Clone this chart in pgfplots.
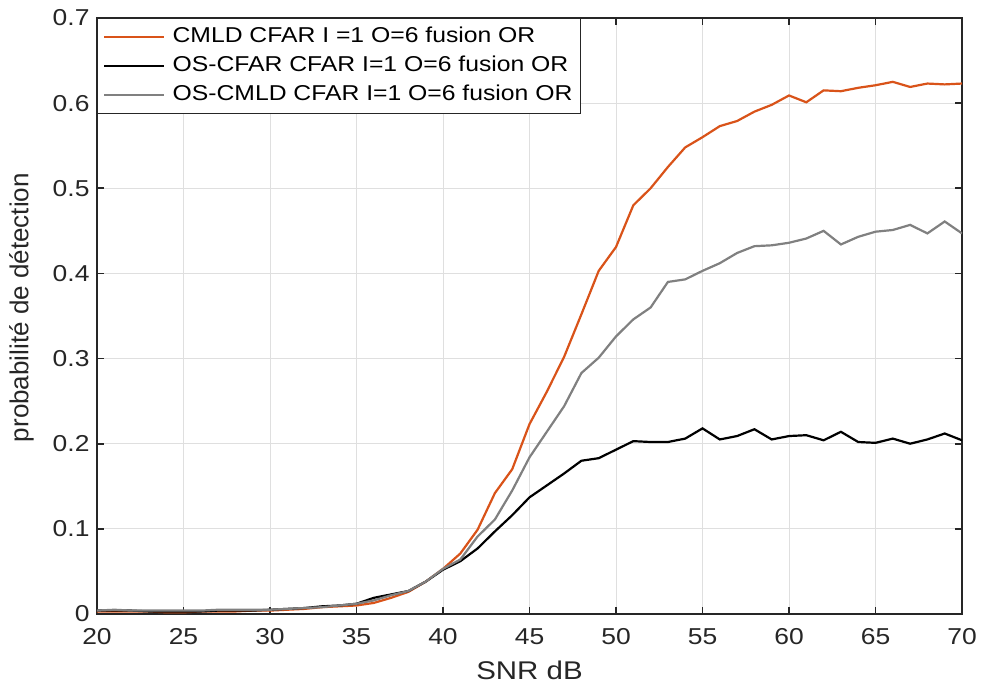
\documentclass[border=0pt]{standalone}
\usepackage{pgfplots}
\pgfplotsset{compat=1.18}
\usepackage{fontspec}
\setmainfont{Liberation Sans}[FakeStretch=1.15]
\newfontfamily\plainsans{Liberation Sans}
\definecolor{morange}{rgb}{0.85,0.325,0.098}
\definecolor{mgray}{rgb}{0.5,0.5,0.5}
\definecolor{axcol}{rgb}{0.15,0.15,0.15}
\pgfplotstableread{
x cmld os oscmld
20 0.003 0.004 0.004
21 0.003 0.004 0.005
22 0.003 0.004 0.004
23 0.003 0.003 0.004
24 0.002 0.003 0.004
25 0.002 0.003 0.004
26 0.003 0.003 0.004
27 0.003 0.004 0.005
28 0.003 0.004 0.005
29 0.004 0.004 0.005
30 0.004 0.005 0.005
31 0.005 0.006 0.006
32 0.006 0.007 0.007
33 0.008 0.009 0.008
34 0.009 0.010 0.010
35 0.010 0.012 0.012
36 0.013 0.019 0.016
37 0.019 0.023 0.022
38 0.026 0.027 0.027
39 0.038 0.038 0.038
40 0.053 0.052 0.053
41 0.071 0.062 0.064
42 0.099 0.077 0.091
43 0.142 0.097 0.111
44 0.170 0.116 0.145
45 0.223 0.137 0.184
46 0.261 0.151 0.214
47 0.302 0.165 0.244
48 0.352 0.180 0.283
49 0.403 0.183 0.301
50 0.431 0.193 0.326
51 0.480 0.203 0.346
52 0.500 0.202 0.360
53 0.525 0.202 0.390
54 0.548 0.206 0.393
55 0.560 0.218 0.403
56 0.573 0.205 0.412
57 0.579 0.209 0.424
58 0.590 0.217 0.432
59 0.598 0.205 0.433
60 0.609 0.209 0.436
61 0.601 0.210 0.441
62 0.615 0.204 0.450
63 0.614 0.214 0.434
64 0.618 0.202 0.443
65 0.621 0.201 0.449
66 0.625 0.206 0.451
67 0.619 0.200 0.457
68 0.623 0.205 0.447
69 0.622 0.212 0.461
70 0.623 0.204 0.447
}\datatable
\begin{document}
\begin{tikzpicture}
\begin{axis}[
  scale only axis,
  width=865pt, height=596pt,
  xmin=20, xmax=70, ymin=0, ymax=0.7,
  xtick={20,25,...,70},
  ytick={0,0.1,...,0.7},
  yticklabels={0,0.1,0.2,0.3,0.4,0.5,0.6,0.7},
  /pgf/number format/assume math mode=true,
  tick align=inside,
  major tick length=7pt,
  every tick/.style={axcol, line width=1.8pt},
  axis line style={axcol, line width=2pt},
  grid=major,
  major grid style={gray!25, line width=1pt},
  ticklabel style={font=\fontsize{23}{27}\selectfont, text=axcol},
  xticklabel style={yshift=-11pt},
  yticklabel style={xshift=-4pt},
  xlabel={SNR dB},
  ylabel={probabilit\'e de d\'etection},
  every axis x label/.style={at={(axis description cs:0.5,0)}, anchor=north, inner sep=0pt, yshift=-47pt, font=\fontsize{25.6}{30}\selectfont, text=axcol},
  every axis y label/.style={at={(axis description cs:0,0.514)}, xshift=-75.5pt, rotate=90, anchor=center, font=\plainsans\fontsize{26}{30}\selectfont, text=axcol},
  legend style={at={(0,1)}, anchor=north west, draw=axcol, line width=0.8pt, fill=white,
    font=\fontsize{21.5}{25}\selectfont, inner xsep=6pt, inner ysep=6pt,
    nodes={inner sep=2pt, text height=16pt, text depth=5pt},
    row sep=4pt, /tikz/every odd column/.append style={column sep=5pt}},
  legend cell align=left,
  legend image code/.code={\draw[#1, line width=2.2pt] (0pt,0pt) -- (60pt,0pt);},
]
\addplot[morange, line width=2.2pt] table[x=x, y=cmld] {\datatable};
\addlegendentry{CMLD CFAR I =1 O=6 fusion OR}
\addplot[black, line width=2.2pt] table[x=x, y=os] {\datatable};
\addlegendentry{OS-CFAR CFAR I=1 O=6 fusion OR}
\addplot[mgray, line width=2.2pt] table[x=x, y=oscmld] {\datatable};
\addlegendentry{OS-CMLD CFAR I=1 O=6 fusion OR}
\coordinate (bl) at (rel axis cs:0,0);
\coordinate (tr) at (rel axis cs:1,1);
\end{axis}
\pgfresetboundingbox
\path[use as bounding box] ([shift={(-97pt,-75pt)}]bl) rectangle ([shift={(22pt,18pt)}]tr);
\end{tikzpicture}
\end{document}
